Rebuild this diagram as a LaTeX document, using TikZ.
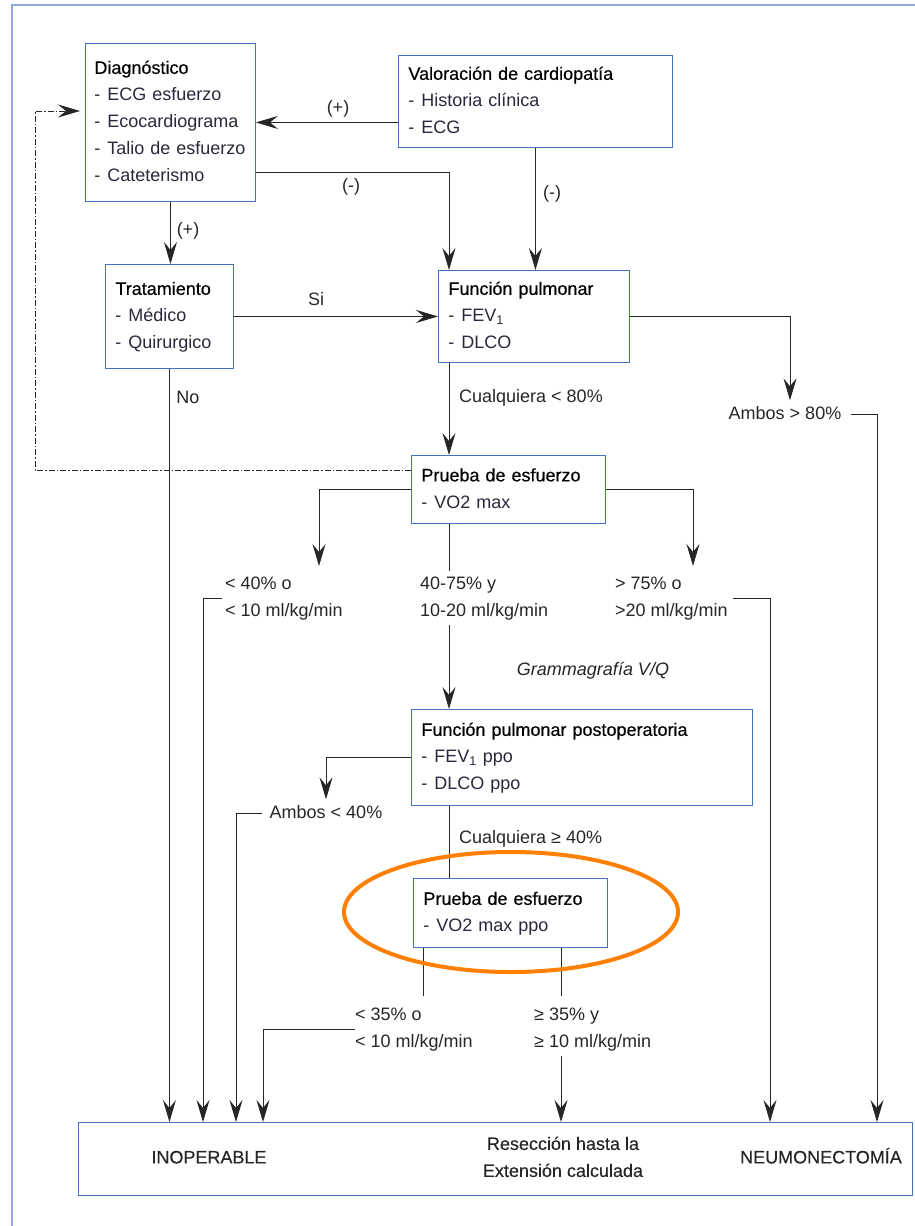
\documentclass[tikz,border=0pt]{standalone}
\usepackage{fontspec}
\setmainfont{Liberation Sans}
\newfontfamily\titfont[FakeBold=0.35]{Liberation Sans}
\usetikzlibrary{arrows.meta,shapes.geometric}
\definecolor{cajaazul}{RGB}{68,114,196}
\definecolor{marco}{RGB}{142,169,219}
\definecolor{naranja}{RGB}{255,128,0}
\definecolor{textoitem}{RGB}{40,40,60}
\newcommand{\itm}[1]{\strut{\color{textoitem}-\hspace{7pt}\mbox{#1}}}
\newcommand{\tit}[1]{\strut{\titfont\color{black}#1}}
\newcommand{\dos}[2]{\strut#1\\\strut#2}
\tikzset{
  every node/.style={font=\fontsize{18}{27}\selectfont, text=black!85},
  caja/.style={draw=cajaazul, line width=0.9pt, anchor=north west, align=left,
    inner xsep=10pt, inner ysep=0pt},
  etiq/.style={inner sep=0pt, execute at begin node=\strut},
  etiq2/.style={inner sep=0pt, align=left, anchor=west},
  flecha/.style={-{Stealth[length=22pt,width=13pt,inset=8pt]}, line width=0.9pt, black!85},
  linea/.style={line width=0.9pt, black!85},
  retro/.style={flecha, line width=0.8pt, dash pattern=on 6pt off 2pt on 1.5pt off 2pt},
}
\begin{document}
\begin{tikzpicture}[x=1pt,y=-1pt]
  \useasboundingbox (0,0) rectangle (915,1226);
  \draw[marco, line width=2pt] (12,1226) -- (12,5) -- (915,5);

  % cajas
  \node[caja, text width=152pt, minimum height=158pt, inner xsep=9pt] (diag) at (85,43)
    {\tit{Diagnóstico}\\ \itm{ECG esfuerzo}\\ \itm{Ecocardiograma}\\
     \itm{Talio de esfuerzo}\\ \itm{Cateterismo}};
  \node[caja, text width=254pt, minimum height=92pt] (valor) at (398,55)
    {\tit{Valoración de cardiopatía}\\ \itm{Historia clínica}\\ \itm{ECG}};
  \node[caja, text width=108pt, minimum height=104pt] (trat) at (105,264)
    {\tit{Tratamiento}\\ \itm{Médico}\\ \itm{Quirurgico}};
  \node[caja, text width=171pt, minimum height=92pt] (funcion) at (438,270)
    {\tit{Función pulmonar}\\ \itm{FEV\textsubscript{1}}\\ \itm{DLCO}};
  \node[caja, text width=174pt, minimum height=68pt] (prueba) at (411,455)
    {\tit{Prueba de esfuerzo}\\ \itm{VO2 max}};
  \node[caja, text width=321pt, minimum height=96pt] (postop) at (411,709)
    {\tit{Función pulmonar postoperatoria}\\ \itm{FEV\textsubscript{1} ppo}\\ \itm{DLCO ppo}};
  \node[caja, text width=174pt, minimum height=69pt] (pruebappo) at (413,878)
    {\tit{Prueba de esfuerzo}\\ \itm{VO2 max ppo}};
  \node[draw=cajaazul, line width=0.9pt, anchor=north west, inner sep=0pt,
    minimum width=834pt, minimum height=73pt] (final) at (78,1122) {};
  \node[etiq] (inop) at (209,1158) {\titfont INOPERABLE};
  \node[inner sep=0pt, align=center, font=\fontsize{18}{27}\titfont] (resec) at (563,1158)
    {\dos{Resección hasta la}{Extensión calculada}};
  \node[etiq] (neumo) at (821,1158) {\titfont NEUMONECTOMÍA};

  % etiquetas
  \node[etiq] (mas1) at (338,108) {(+)};
  \node[etiq] (menos1) at (351,186) {(-)};
  \node[etiq] (menos2) at (552,193) {(-)};
  \node[etiq] (mas2) at (188,230) {(+)};
  \node[etiq] (si) at (316,300) {Si};
  \node[etiq] (no) at (188,398) {No};
  \node[etiq, anchor=west] (cual80) at (459,397) {Cualquiera < 80\%};
  \node[etiq] (amb80) at (785,414) {Ambos > 80\%};
  \node[etiq2] (m40) at (225,598) {\dos{< 40\% o}{< 10 ml/kg/min}};
  \node[etiq2] (m4075) at (420,598) {\dos{40-75\% y}{10-20 ml/kg/min}};
  \node[etiq2] (m75) at (615,598) {\dos{> 75\% o}{>20 ml/kg/min}};
  \node[etiq] (gamma) at (593,670) {\itshape Grammagrafía V/Q};
  \node[etiq] (amb40) at (326,813) {Ambos < 40\%};
  \node[etiq, anchor=west] (cual40) at (459,838) {Cualquiera ≥ 40\%};
  \node[etiq2] (m35) at (355,1029) {\dos{< 35\% o}{< 10 ml/kg/min}};
  \node[etiq2] (n35) at (534,1029) {\dos{≥ 35\% y}{≥ 10 ml/kg/min}};

  % puntos de quiebre
  \coordinate (col) at (449,0);
  \coordinate (retro) at (35,111);
  \coordinate (p40) at (319,566);
  \coordinate (p75) at (693,566);
  \coordinate (b80) at (877,414);
  \coordinate (b40) at (203,598);
  \coordinate (b75) at (770,598);
  \coordinate (b40b) at (236,813);
  \coordinate (b35) at (263,1029);
  \coordinate (r35) at ([xshift=27pt]n35.south west);

  % conectores
  \draw[flecha] (valor.west |- diag.east) -- (diag.east);
  \draw[flecha] ([yshift=-50pt]diag.east) -| (funcion.north -| col);
  \draw[flecha] (valor.south) -- (valor.south |- funcion.north);
  \draw[flecha] (diag.south) -- (diag.south |- trat.north);
  \draw[flecha] (trat.east) -- (trat.east -| funcion.west);
  \draw[flecha] (trat.south) -- (trat.south |- final.north);
  \draw[flecha] (funcion.south -| col) -- (prueba.north -| col);
  \draw[flecha] (funcion.east) -| ([xshift=5pt]amb80.north);
  \draw[flecha] ([xshift=10pt]amb80.east) -- (b80) -- (b80 |- final.north);
  \draw[retro] ([yshift=-15pt]prueba.north west) -| (retro)
    -- ([xshift=-5pt]retro -| diag.west);
  \draw[flecha] (prueba.west) -| (p40);
  \draw[flecha] (prueba.east) -| (p75);
  \draw[linea] (prueba.south -| col) -- (m4075.north -| col);
  \draw[flecha] (m4075.south -| col) -- (postop.north -| col);
  \draw[flecha] ([xshift=-3pt]m40.west) -- (b40) -- (b40 |- final.north);
  \draw[flecha] ([xshift=5pt]m75.east) -- (b75) -- (b75 |- final.north);
  \draw[flecha] (postop.west) -| (amb40.north);
  \draw[flecha] ([xshift=-8pt]amb40.west) -- (b40b) -- (b40b |- final.north);
  \draw[linea] (postop.south -| col) -- (pruebappo.north -| col);
  \draw[linea] ([xshift=-87pt]pruebappo.south) -- ++(0,48);
  \draw[linea] ([xshift=51pt]pruebappo.south) -- ++(0,48);
  \draw[flecha] (m35.west) -- (b35) -- (b35 |- final.north);
  \draw[flecha] (r35) -- (r35 |- final.north);

  % resaltado
  \node[draw=naranja, line width=4pt, ellipse, inner sep=0pt,
    minimum width=334pt, minimum height=120pt] (marca) at (511,912) {};
\end{tikzpicture}
\end{document}
